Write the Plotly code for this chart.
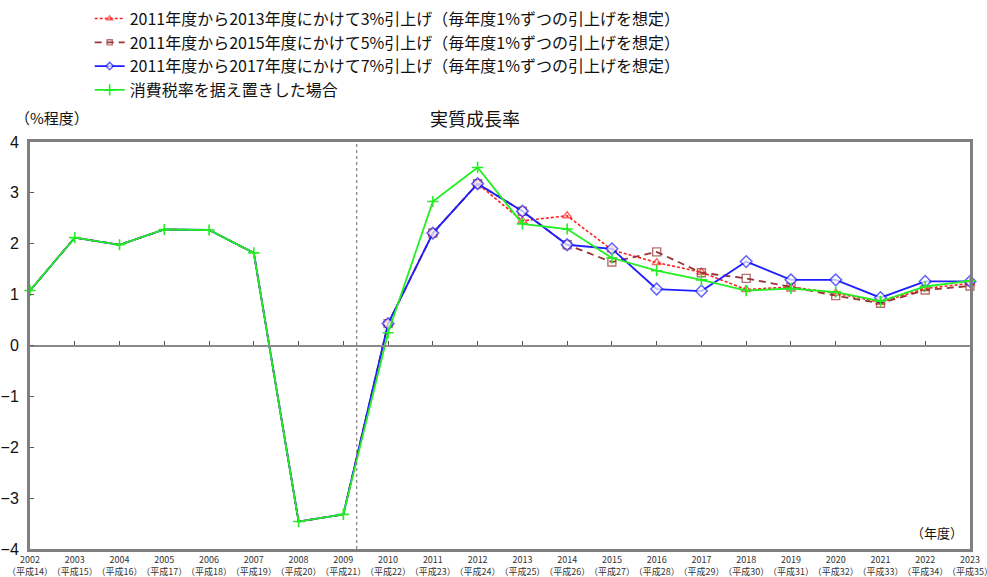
import plotly.graph_objects as go

years = list(range(2002, 2024))
heisei = [y - 1988 for y in years]
tick_labels = [f"{y}<br>（平成{h}）" for y, h in zip(years, heisei)]

hist = [1.08, 2.12, 1.98, 2.28, 2.27, 1.82, -3.46, -3.32]

keep = hist + [0.25, 2.83, 3.50, 2.39, 2.29, 1.72, 1.47, 1.29, 1.08, 1.12, 1.05, 0.87, 1.16, 1.27]
up7 = hist + [0.43, 2.21, 3.18, 2.64, 1.98, 1.90, 1.11, 1.07, 1.65, 1.29, 1.29, 0.94, 1.26, 1.26]
up5 = hist + [0.43, 2.21, 3.18, 2.64, 1.98, 1.64, 1.84, 1.43, 1.32, 1.15, 0.98, 0.83, 1.09, 1.17]
up3 = hist + [0.43, 2.21, 3.18, 2.45, 2.55, 1.88, 1.63, 1.44, 1.10, 1.15, 1.03, 0.85, 1.12, 1.22]

names = [
    "2011年度から2013年度にかけて3%引上げ（毎年度1%ずつの引上げを想定）",
    "2011年度から2015年度にかけて5%引上げ（毎年度1%ずつの引上げを想定）",
    "2011年度から2017年度にかけて7%引上げ（毎年度1%ずつの引上げを想定）",
    "消費税率を据え置きした場合",
]

FONT = "Noto Sans CJK JP"
fut_sizes = [0 if y < 2010 else 8 for y in years]
dia_sizes = [0 if y < 2010 else 9 for y in years]

fig = go.Figure()
fig.add_trace(go.Scatter(
    x=years, y=up3, name=names[0], mode="lines+markers",
    line=dict(color="#FF2020", width=1.6, dash="3px,2px"),
    marker=dict(symbol="triangle-up-open", size=fut_sizes, color="#FF2020", line=dict(width=1.4)),
    cliponaxis=False))
fig.add_trace(go.Scatter(
    x=years, y=up5, name=names[1], mode="lines+markers",
    line=dict(color="#993333", width=1.8, dash="7px,5px"),
    marker=dict(symbol="square-open", size=fut_sizes, color="#993333", line=dict(width=1.4)),
    cliponaxis=False))
fig.add_trace(go.Scatter(
    x=years, y=up7, name=names[2], mode="lines+markers",
    line=dict(color="#2020FF", width=1.8),
    marker=dict(symbol="diamond", size=dia_sizes, color="white", line=dict(width=1.5, color="#2020FF")),
    cliponaxis=False))
fig.add_trace(go.Scatter(
    x=years, y=keep, name=names[3], mode="lines+markers",
    line=dict(color="#22EE22", width=1.8),
    marker=dict(symbol="cross-thin-open", size=8, color="#22EE22", line=dict(width=1.6, color="#22EE22")),
    cliponaxis=False))

# zero line with ticks
fig.add_trace(go.Scatter(x=[2002, 2023], y=[0, 0], xaxis="x2", mode="lines",
                         line=dict(color="rgba(0,0,0,0)"), showlegend=False, hoverinfo="skip"))

fig.add_shape(type="line", xref="x", yref="paper", x0=2009.3, x1=2009.3, y0=0, y1=1,
              line=dict(color="#666666", width=1, dash="dot"))

fig.update_layout(
    width=987, height=577,
    margin=dict(l=30, r=17, t=142, b=28, autoexpand=False),
    paper_bgcolor="white", plot_bgcolor="white",
    font=dict(family=FONT, color="#111111"),
    showlegend=True,
    legend=dict(x=0.0635, y=1.345, xanchor="left", yanchor="top",
                font=dict(size=16, family=FONT), bgcolor="rgba(0,0,0,0)",
                tracegroupgap=0, itemsizing="trace"),
    xaxis=dict(range=[2002, 2023], tickmode="array", tickvals=years, ticktext=tick_labels,
               tickfont=dict(size=9, family=FONT, color="#333333"), tickangle=0, automargin=False,
               ticklabeloverflow="allow",
               showgrid=False, zeroline=False, showline=True, mirror=True,
               linecolor="#7f7f7f", linewidth=3, ticks="", ticklabelstandoff=0),
    xaxis2=dict(range=[2002, 2023], overlaying="x", anchor="free", position=0.5,
                tickmode="array", tickvals=years, showticklabels=False,
                ticks="inside", ticklen=4, tickcolor="#555555",
                showline=True, linecolor="#8a8a8a", linewidth=2, showgrid=False, zeroline=False),
    yaxis=dict(range=[-4, 4], dtick=1, showgrid=False, zeroline=False, automargin=False,
               showline=True, mirror=True, linecolor="#7f7f7f", linewidth=3,
               ticks="inside", ticklen=4, tickcolor="#555555", ticklabelstandoff=5,
               tickfont=dict(size=16, family="Liberation Sans", color="#111111")),
    annotations=[
        dict(text="実質成長率", xref="paper", yref="paper", x=0.473, y=1.0 + (142 - 118) / 407,
             xanchor="center", yanchor="middle", showarrow=False, font=dict(size=18, family=FONT)),
        dict(text="（%程度）", xref="paper", yref="paper", x=-0.018, y=1.0 + (142 - 118) / 407,
             xanchor="left", yanchor="middle", showarrow=False, font=dict(size=15, family=FONT)),
        dict(text="（年度）", xref="paper", yref="paper", x=0.995, y=(549 - 532) / 407,
             xanchor="right", yanchor="middle", showarrow=False, font=dict(size=13, family=FONT)),
    ],
)

fig.write_html("out.html", config={"displayModeBar": False},
               post_script="document.body.style.margin='0';document.body.style.overflow='hidden';")
